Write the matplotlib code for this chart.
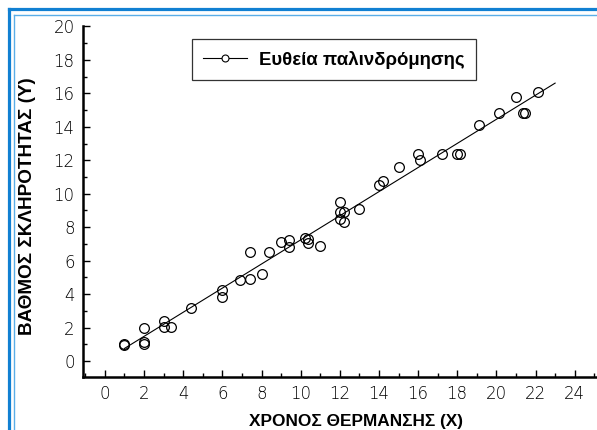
import numpy as np
import matplotlib
matplotlib.use("Agg")
from matplotlib import pyplot as plt
from matplotlib.lines import Line2D
from matplotlib.ticker import MultipleLocator

plt.rcParams['font.family'] = ['Liberation Sans', 'DejaVu Sans']

# data
x_vals = [1.0, 1.0, 2.0, 2.0, 2.0, 3.0, 3.0, 3.4, 4.4, 6.0, 6.0,
          6.9, 7.4, 7.4, 8.0, 8.4, 9.0, 9.4, 9.4, 10.2, 10.4, 10.4, 11.0,
          12.0, 12.0, 12.2, 12.0, 12.2, 13.0, 14.0, 14.2, 15.0, 16.0, 16.1,
          17.2, 18.0, 18.15, 19.1, 20.15, 21.0, 21.35, 21.45, 22.15]
y_vals = [1.0, 0.95, 2.0, 1.15, 1.05, 2.4, 2.05, 2.05, 3.2, 4.25, 3.85,
          4.85, 4.9, 6.5, 5.2, 6.5, 7.1, 7.25, 6.8, 7.35, 7.3, 7.05, 6.9,
          9.5, 8.9, 8.9, 8.5, 8.3, 9.1, 10.5, 10.75, 11.6, 12.35, 12.0,
          12.35, 12.35, 12.35, 14.1, 14.85, 15.75, 14.8, 14.8, 16.05]
line_x = [1.0, 23.0]
legend_label = 'Ευθεία παλινδρόμησης'
xlabel = 'ΧΡΟΝΟΣ ΘΕΡΜΑΝΣΗΣ (Χ)'
ylabel = 'ΒΑΘΜΟΣ ΣΚΛΗΡΟΤΗΤΑΣ (Υ)'

W, H = 597, 430
fig = plt.figure(figsize=(W / 100, H / 100), dpi=100)
ax = fig.add_axes([83 / W, 1 - 377 / H, (W - 83) / W, (377 - 25.5) / H])

# regression line from the points
b, a = np.polyfit(x_vals, y_vals, 1)
lx = np.array(line_x)
ax.plot(lx, a + b * lx, color='black', lw=0.8)
ax.plot(x_vals, y_vals, 'o', mfc='none', mec='black', mew=0.9, ms=7,
        clip_on=False)

# legend handle: line with small open circle
h = Line2D([], [], color='black', lw=0.8, marker='o', mfc='white',
           mec='black', ms=5, mew=0.8)
leg = fig.legend([h], [legend_label], loc='upper left',
                 bbox_to_anchor=(192 / W, 1 - 39.5 / H), borderaxespad=0,
                 fancybox=False, frameon=True, edgecolor='black',
                 handlelength=2.35, handletextpad=0.65, borderpad=0.6,
                 prop={'weight': 'bold', 'size': 13.4}, markerscale=1)
leg.get_frame().set_linewidth(0.9)

ax.set_xlim(-1.12, 25.14)
ax.set_ylim(-0.95, 20.05)
ax.xaxis.set_minor_locator(MultipleLocator(1))
ax.yaxis.set_minor_locator(MultipleLocator(1))
ax.set_xticks(np.arange(0, 25, 2))
ax.set_yticks(np.arange(0, 21, 2))
ax.tick_params(which='both', direction='in', width=1, colors='black')
ax.tick_params(which='major', length=5, pad=6)
ax.tick_params(which='minor', length=3)
for lab in ax.get_xticklabels() + ax.get_yticklabels():
    lab.set_fontfamily('DejaVu Sans')
    lab.set_fontweight(200)
    lab.set_fontsize(12)
for s in ['top', 'right']:
    ax.spines[s].set_visible(False)
for s in ['left', 'bottom']:
    ax.spines[s].set_linewidth(1.8)

fig.text(356 / W, 1 - 421.5 / H, xlabel, ha='center', va='center',
         fontsize=12.4, fontweight='bold')
fig.text(28 / W, 1 - 206 / H, ylabel, ha='center', va='center',
         rotation=90, fontsize=13.6, fontweight='bold')

# blue frame at top and left
fig.add_artist(Line2D([8.5 / W, 8.5 / W], [0, 1 - 8.5 / H], color='#1180d2',
                      lw=2.3, transform=fig.transFigure))
fig.add_artist(Line2D([8.5 / W, 1], [1 - 8.5 / H, 1 - 8.5 / H], color='#1180d2',
                      lw=2.3, transform=fig.transFigure))
fig.add_artist(Line2D([14 / W, 14 / W], [0, 1 - 14.5 / H], color='#5aaee8',
                      lw=1.0, transform=fig.transFigure))
fig.add_artist(Line2D([14 / W, 1], [1 - 14.5 / H, 1 - 14.5 / H], color='#5aaee8',
                      lw=1.0, transform=fig.transFigure))

fig.savefig('out.png', dpi=100)
